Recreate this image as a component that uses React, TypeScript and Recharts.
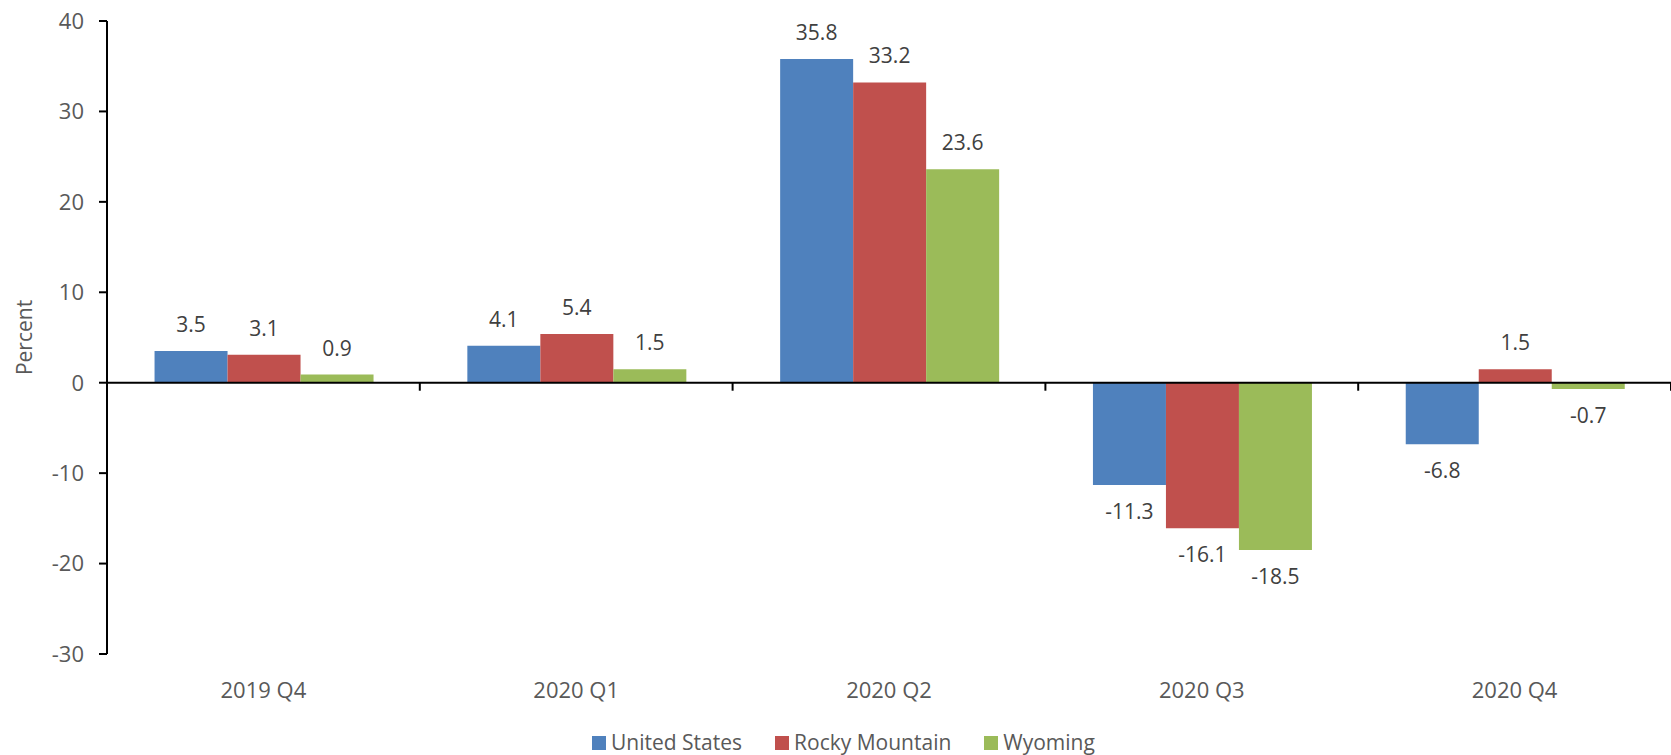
import React from 'react';
import { BarChart, Bar, XAxis, YAxis, ReferenceLine, Legend, LabelList } from 'recharts';

const categories = ['2019 Q4', '2020 Q1', '2020 Q2', '2020 Q3', '2020 Q4'];
const unitedStates = [3.5, 4.1, 35.8, -11.3, -6.8];
const rockyMountain = [3.1, 5.4, 33.2, -16.1, 1.5];
const wyoming = [0.9, 1.5, 23.6, -18.5, -0.7];
const yTicks = [-30, -20, -10, 0, 10, 20, 30, 40];
const seriesNames = ['United States', 'Rocky Mountain', 'Wyoming'];
const seriesKeys = ['us', 'rm', 'wy'];
const colors = ['#4F81BD', '#C0504D', '#9BBB59'];

const data = categories.map((c, i) => ({
  category: c,
  us: unitedStates[i],
  rm: rockyMountain[i],
  wy: wyoming[i],
}));

const FONT = "'Open Sans', sans-serif";

const ZeroLine = (props: any) => {
  const { x1, y1, x2, y2 } = props;
  const n = categories.length;
  const w = x2 - x1;
  return (
    <g>
      <line x1={x1} y1={y1} x2={x2} y2={y2} stroke="#000" strokeWidth={2} />
      {categories.map((_, i) => {
        const x = x1 + (w * (i + 1)) / n;
        return <line key={i} x1={x} x2={x} y1={y1} y2={y1 + 8} stroke="#000" strokeWidth={2} />;
      })}
    </g>
  );
};

const LegendContent = (props: any) => {
  const payload = [...(props.payload || [])].sort(
    (a: any, b: any) => seriesNames.indexOf(a.value) - seriesNames.indexOf(b.value)
  );
  return (
    <div
      style={{
        height: 40,
        boxSizing: 'border-box',
        paddingTop: 15,
        paddingLeft: 592,
        display: 'flex',
        alignItems: 'center',
        fontFamily: FONT,
        fontSize: 21,
        color: '#595959',
      }}
    >
      {payload.map((p: any, i: number) => (
        <div key={i} style={{ display: 'flex', alignItems: 'center', marginRight: 33 }}>
          <span style={{ display: 'inline-block', width: 14, height: 14, background: p.color, marginRight: 5 }} />
          <span style={{ lineHeight: '25px' }}>{p.value}</span>
        </div>
      ))}
    </div>
  );
};

const PercentLabel = (props: any) => {
  const vb = props.viewBox || {};
  const cx = vb.x + 24;
  const cy = vb.y + vb.height / 2;
  return (
    <text
      x={cx}
      y={cy}
      transform={`rotate(-90 ${cx} ${cy})`}
      textAnchor="middle"
      dominantBaseline="central"
      fontFamily={FONT}
      fontSize={21}
      fill="#595959"
    >
      Percent
    </text>
  );
};

export default function App() {
  return (
    <div style={{ position: 'absolute', left: 0, top: 0, background: '#fff' }}>
      <BarChart
        width={1671}
        height={755}
        data={data}
        margin={{ top: 21, right: 0, bottom: 0, left: 0 }}
        barCategoryGap="15.2%"
        barGap={0}
      >
        <XAxis
          dataKey="category"
          axisLine={false}
          tickLine={false}
          tickSize={0}
          tickMargin={28}
          height={61}
          interval={0}
          tick={{ fontFamily: FONT, fontSize: 22, fill: '#595959' }}
        />
        <YAxis
          domain={[-30, 40]}
          ticks={yTicks}
          width={107}
          interval={0}
          axisLine={{ stroke: '#000', strokeWidth: 2 }}
          tickLine={{ stroke: '#000', strokeWidth: 2 }}
          tickSize={8}
          tickMargin={15}
          tick={{ fontFamily: FONT, fontSize: 22, fill: '#595959' }}
          label={<PercentLabel />}
        />
        <Legend verticalAlign="bottom" content={<LegendContent />} />
        {seriesKeys.map((k, i) => (
          <Bar key={k} dataKey={k} name={seriesNames[i]} fill={colors[i]} isAnimationActive={false}>
            <LabelList
              dataKey={k}
              position="top"
              offset={19}
              formatter={(v: any) => Number(v).toFixed(1)}
              style={{ fontFamily: FONT, fontSize: 21, fill: '#404040' }}
            />
          </Bar>
        ))}
        <ReferenceLine y={0} shape={<ZeroLine />} />
      </BarChart>
    </div>
  );
}
